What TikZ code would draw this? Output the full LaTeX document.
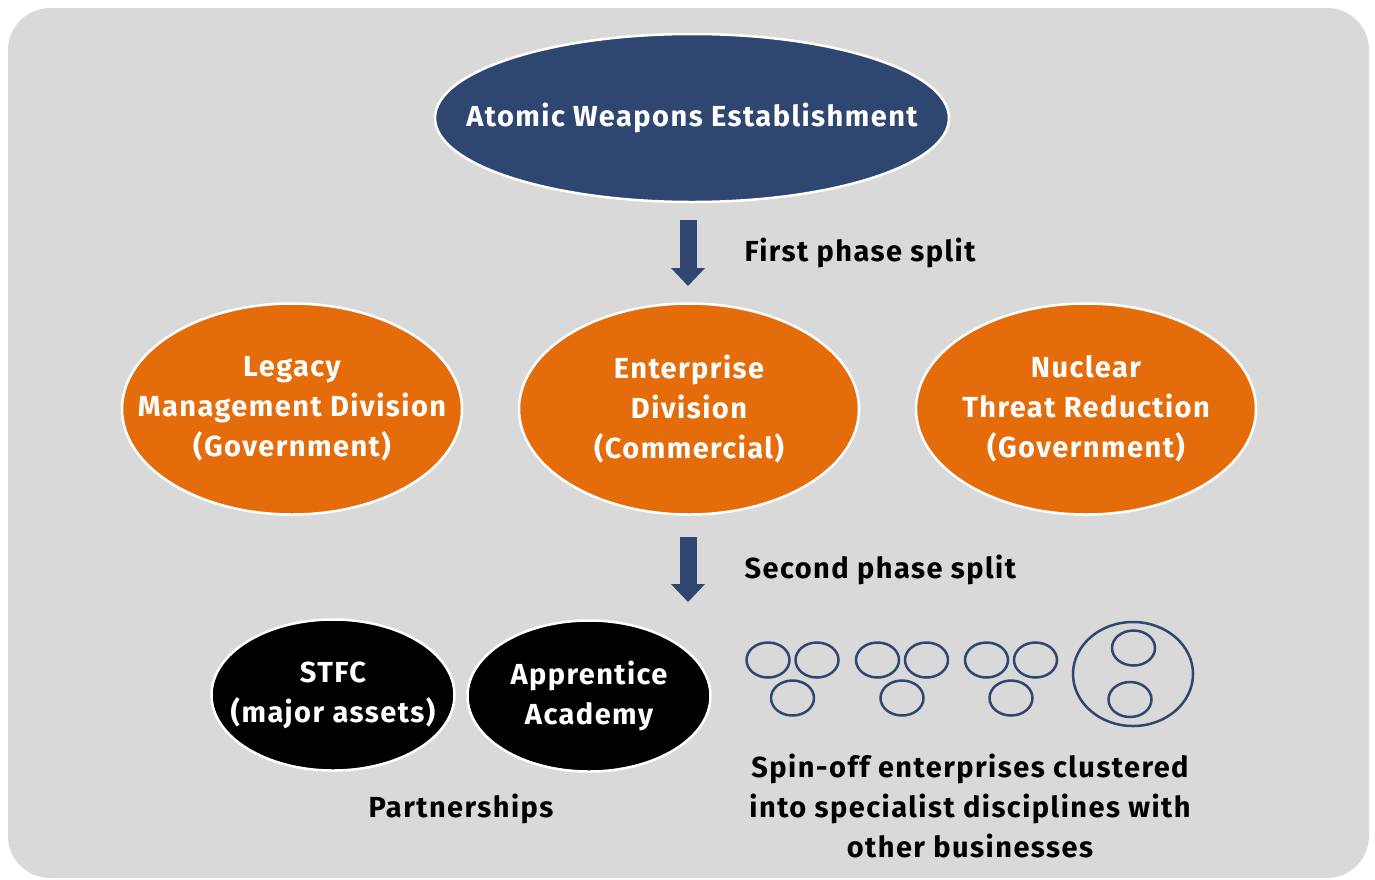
\documentclass[tikz,border=0pt]{standalone}
\usepackage{fontspec}
\setmainfont{Fira Sans}[LetterSpace=5.0]
\usepackage{tikz}
\usetikzlibrary{shapes,arrows.meta}
\definecolor{fond}{HTML}{D9D9D9}
\definecolor{marine}{HTML}{2E4670}
\definecolor{orange}{HTML}{E46C0A}

\begin{document}
\begin{tikzpicture}[x=1pt, y=-1pt,
    bulle/.style={ellipse, draw=white, line width=2.5pt, inner xsep=-80pt, inner ysep=-20pt,
      text=white, align=center, font=\fontsize{29}{40}\selectfont\bfseries},
    legende/.style={align=center, font=\fontsize{29}{40}\selectfont\bfseries},
    fleche/.style={marine, line width=17pt, -{Triangle[width=33pt,length=18pt]}},
    anneau/.style={draw=marine, line width=2.5pt}]
  \useasboundingbox (0,0) rectangle (1375,879);
  % Fond.
  \path[fill=fond, rounded corners=42pt] (8,8) rectangle (1369,878);

  % Haut.
  \node[bulle, fill=marine, minimum width=514pt, minimum height=168pt] (awe) at (692,118)
    {Atomic Weapons Establishment};
  \coordinate (f1a) at (688,220);
  \coordinate (f1b) at (688,286);
  \draw[fleche] (f1a) -- (f1b);
  \node[legende, anchor=west] (phase1) at (741,253) {First phase split};

  % Divisions.
  \node[bulle, fill=orange, minimum width=340pt, minimum height=211pt] (legacy) at (292,409)
    {Legacy\\Management Division\\(Government)};
  \node[bulle, fill=orange, minimum width=340pt, minimum height=211pt] (enterprise) at (689,409)
    {Enterprise\\Division\\(Commercial)};
  \node[bulle, fill=orange, minimum width=340pt, minimum height=211pt] (nuclear) at (1086,409)
    {Nuclear\\Threat Reduction\\(Government)};
  \coordinate (f2a) at (688,537);
  \coordinate (f2b) at (688,602);
  \draw[fleche] (f2a) -- (f2b);
  \node[legende, anchor=west] (phase2) at (741,570) {Second phase split};

  % Partenariats.
  \node[bulle, fill=black, minimum width=243pt, minimum height=151pt] (stfc) at (333,695)
    {STFC\\(major assets)};
  \node[bulle, fill=black, minimum width=243pt, minimum height=151pt] (academy) at (589,696)
    {Apprentice\\Academy};
  \node[legende] (partners) at (461,809) {Partnerships};

  % Essaimage.
  \foreach \dx in {0,109.5,218.5} {
    \draw[anneau] (768+\dx,660) ellipse [x radius=21.5, y radius=17.5];
    \draw[anneau] (817+\dx,660) ellipse [x radius=21.5, y radius=17.5];
    \draw[anneau] (792.5+\dx,698) ellipse [x radius=21.5, y radius=17.5];
  }
  \draw[anneau] (1133,674) ellipse [x radius=60, y radius=52];
  \draw[anneau] (1133.5,648) ellipse [x radius=21.5, y radius=17.5];
  \draw[anneau] (1130,699.5) ellipse [x radius=21.5, y radius=17.5];
  \node[legende] (spinoff) at (970,806)
    {Spin-off enterprises clustered\\into specialist disciplines with\\other businesses};
\end{tikzpicture}
\end{document}
